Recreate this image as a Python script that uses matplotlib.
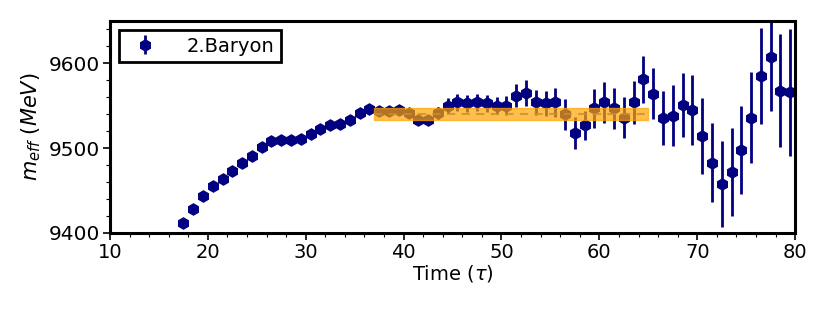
import numpy as np
import matplotlib
matplotlib.use("Agg")
import matplotlib.pyplot as plt
from matplotlib.ticker import AutoMinorLocator

# =========================
# Data
# =========================
time = np.arange(17.5, 80.0, 1.0)
m_eff = [9412, 9428, 9443, 9455, 9464, 9473, 9482, 9491, 9501, 9508,
         9510, 9510, 9511, 9517, 9523, 9527, 9529, 9533, 9542, 9546,
         9544, 9544, 9545, 9541, 9533, 9533, 9541, 9550, 9554, 9553,
         9554, 9553, 9550, 9550, 9562, 9565, 9554, 9553, 9554, 9540,
         9518, 9527, 9547, 9554, 9547, 9536, 9554, 9581, 9564, 9536,
         9538, 9551, 9545, 9514, 9483, 9458, 9472, 9498, 9536, 9585,
         9607, 9568, 9566]
m_err = [1, 1, 1, 1, 1, 1, 1.5, 1.5, 2, 2,
         2, 2, 2.5, 2.5, 3, 3, 3.5, 4, 5, 6,
         5, 5, 5, 6, 6, 6, 7, 9, 10, 10,
         10, 10, 10, 11, 14, 15, 15, 15, 17, 18,
         19, 17, 23, 24, 24, 24, 25, 28, 30, 32,
         36, 38, 41, 45, 47, 51, 52, 52, 54, 57,
         63, 67, 75]

fit_range = [37, 65]
fit_mass = 9540
fit_err = 7

# =========================
# Plot
# =========================
plt.rcParams['font.size'] = 14
fig = plt.figure(figsize=(8.3, 3.11), dpi=100)
ax = fig.add_axes([0.1325, 0.251, 0.8255, 0.6815])

ax.errorbar(time, m_eff, yerr=m_err, fmt='h', color='navy', ms=8,
            elinewidth=2, capsize=0, label='2.Baryon', zorder=2)

ax.fill_between(fit_range, fit_mass - fit_err, fit_mass + fit_err,
                color='orange', alpha=0.7, zorder=3)
ax.plot(fit_range, [fit_mass, fit_mass], color='#d08a30', alpha=0.8,
        lw=1.5, dashes=(4, 3), zorder=4)

ax.set_xlim(10, 80)
ax.set_ylim(9400, 9650)
ax.set_xticks([10, 20, 30, 40, 50, 60, 70, 80])
ax.set_yticks([9400, 9500, 9600])
ax.xaxis.set_minor_locator(AutoMinorLocator(5))
ax.yaxis.set_minor_locator(AutoMinorLocator(5))
ax.tick_params(which='major', length=5, width=1.2, pad=2)
ax.tick_params(which='minor', length=3, width=0.8)
ax.tick_params(axis='y', labelsize=14.5)
for sp in ax.spines.values():
    sp.set_linewidth(2.2)

ax.set_xlabel(r'Time ($\tau$)', labelpad=1)
ax.set_ylabel(r'$m_{eff}\ (MeV)$', labelpad=4, fontsize=15)

leg = ax.legend(loc='upper left', fancybox=False, framealpha=1,
                edgecolor='black', handletextpad=1.15, borderpad=0.35,
                borderaxespad=0.45)
leg.get_frame().set_linewidth(2)

fig.savefig('out.png', dpi=100)
